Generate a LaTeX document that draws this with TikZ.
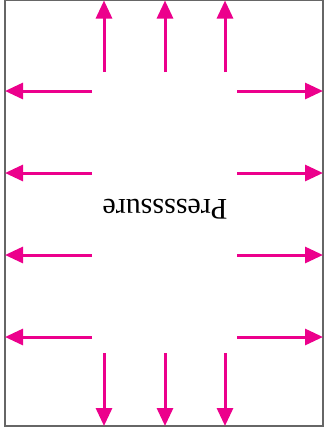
\documentclass[tikz,border=0pt]{standalone}
\usepackage{fontspec}
\setmainfont{Liberation Serif}
\usetikzlibrary{arrows.meta}
\definecolor{pmag}{HTML}{EC008C}
\tikzset{
  frameline/.style={draw=black!60, line width=1.2pt},
  parrow/.style={draw=pmag, line width=3pt, -{Triangle[length=18pt,width=16pt]}},
  plabel/.style={font=\fontsize{30}{31}\selectfont, rotate=180, inner sep=0pt}
}
\begin{document}
\begin{tikzpicture}[x=1pt,y=-1pt]
\useasboundingbox (0,0) rectangle (324,432);
\draw[frameline] (5,0.6) rectangle (323,426);
\node[plabel] (lbl) at (165,209) {Pressssure};
% up and down arrows
\foreach \i/\x in {1/104,2/165,3/225}{
  \coordinate (us\i) at (\x,72);
  \coordinate (ue\i) at (\x,0.5);
  \coordinate (ds\i) at (\x,353);
  \coordinate (de\i) at (\x,426);
  \draw[parrow] (us\i) -- (ue\i);
  \draw[parrow] (ds\i) -- (de\i);
}
% left and right arrows
\foreach \i/\y in {1/91,2/173,3/255,4/337}{
  \coordinate (ls\i) at (92,\y);
  \coordinate (le\i) at (5,\y);
  \coordinate (rs\i) at (237,\y);
  \coordinate (re\i) at (323,\y);
  \draw[parrow] (ls\i) -- (le\i);
  \draw[parrow] (rs\i) -- (re\i);
}
\end{tikzpicture}
\end{document}
